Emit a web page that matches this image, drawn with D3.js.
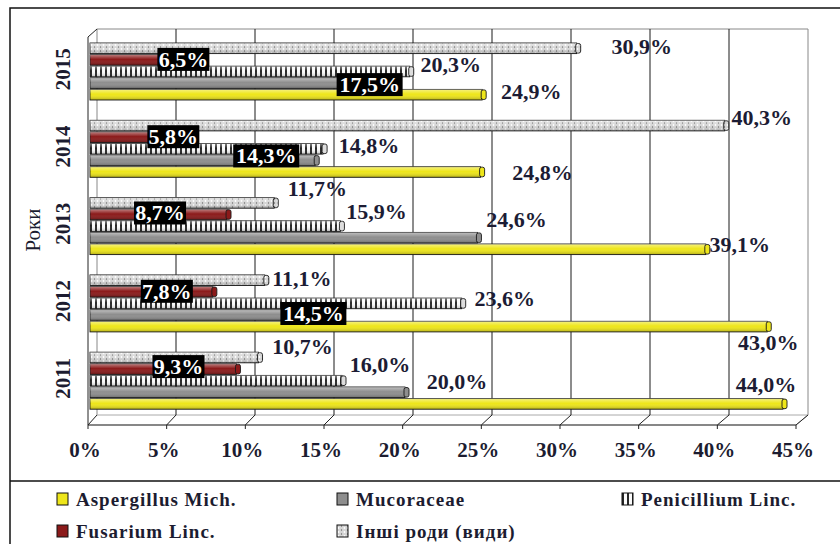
<!DOCTYPE html>
<html>
<head>
<meta charset="utf-8">
<script src="https://cdn.jsdelivr.net/npm/d3@7"></script>
<style>
  body { margin: 0; background: #fff; }
  svg { display: block; font-family: "Liberation Serif", "Times New Roman", serif; }
</style>
</head>
<body>
<div id="chart"></div>
<script>
// data
var years = ["2015", "2014", "2013", "2012", "2011"];
var seriesNames = ["Інші роди (види)", "Fusarium Linc.", "Penicillium Linc.", "Mucoraceae", "Aspergillus Mich."];
var inshi       = [30.9, 40.3, 11.7, 11.1, 10.7];
var fusarium    = [6.5, 5.8, 8.7, 7.8, 9.3];
var penicillium = [20.3, 14.8, 15.9, 23.6, 16.0];
var mucoraceae  = [17.5, 14.3, 24.6, 14.5, 20.0];
var aspergillus = [24.9, 24.8, 39.1, 43.0, 44.0];
var xTicks = [0, 5, 10, 15, 20, 25, 30, 35, 40, 45];
var legendOrder = ["Aspergillus Mich.", "Mucoraceae", "Penicillium Linc.", "Fusarium Linc.", "Інші роди (види)"];

var values = [inshi, fusarium, penicillium, mucoraceae, aspergillus];

// label placement (layout only): [dx of label centre from bar end, dy from bar centre] per series, per year
var labelNudge = [
  [[61, -2], [33, -8], [39, -15], [33, -2], [40, -11]],
  [[-13, -1], [-12, -1], [-71, -2], [-50, -1], [-62, -3]],
  [[37, -7], [42, -4], [32, -15], [39, -5], [34, -16]],
  [[0, 1], [-53, -5], [35, -18], [-9, -2], [48, -11]],
  [[45, -3], [58, 0], [30, -5], [-3, 16], [-21, -20]]
];
// which labels sit in a black box
var boxed = [
  [false, false, false, false, false],
  [true, true, true, true, true],
  [false, false, false, false, false],
  [true, true, false, true, false],
  [false, false, false, false, false]
];

var W = 840, H = 544;
var svg = d3.select("#chart").append("svg").attr("width", W).attr("height", H);
var defs = svg.append("defs");

// patterns
var pPen = defs.append("pattern").attr("id", "pen").attr("patternUnits", "userSpaceOnUse")
  .attr("width", 5).attr("height", 10);
pPen.append("rect").attr("width", 5).attr("height", 10).attr("fill", "#fafafa");
pPen.append("rect").attr("width", 2).attr("height", 10).attr("fill", "#262626");

var pIn = defs.append("pattern").attr("id", "inshi").attr("patternUnits", "userSpaceOnUse")
  .attr("width", 6).attr("height", 4);
pIn.append("rect").attr("width", 6).attr("height", 4).attr("fill", "#d6d6d6");
pIn.append("circle").attr("cx", 1.5).attr("cy", 1).attr("r", 0.9).attr("fill", "#fff");
pIn.append("circle").attr("cx", 4.5).attr("cy", 3).attr("r", 0.7).attr("fill", "#6a6a6a");

var shade = defs.append("linearGradient").attr("id", "shade")
  .attr("x1", 0).attr("y1", 0).attr("x2", 0).attr("y2", 1);
shade.append("stop").attr("offset", "0%").attr("stop-color", "#fff").attr("stop-opacity", 0.45);
shade.append("stop").attr("offset", "45%").attr("stop-color", "#fff").attr("stop-opacity", 0);
shade.append("stop").attr("offset", "100%").attr("stop-color", "#000").attr("stop-opacity", 0.25);

var fills = ["url(#inshi)", "#8b1a1a", "url(#pen)", "#8e8e8e", "#eee61a"];
var legendFill = {"Aspergillus Mich.": "#eee61a", "Mucoraceae": "#8e8e8e", "Penicillium Linc.": "url(#pen)",
  "Fusarium Linc.": "#8b1a1a", "Інші роди (види)": "url(#inshi)"};

// outer frame
svg.append("path").attr("d", "M10,544 V8 H840").attr("fill", "none").attr("stroke", "#111").attr("stroke-width", 1.5);
svg.append("line").attr("x1", 10).attr("x2", 840).attr("y1", 481).attr("y2", 481).attr("stroke", "#111").attr("stroke-width", 1.5);

// scales
var xBar = d3.scaleLinear().domain([0, 45]).range([90, 798.75]);
var xBack = d3.scaleLinear().domain([0, 45]).range([97, 808]);
var xFront = d3.scaleLinear().domain([0, 45]).range([88, 796]);
var yBand = d3.scaleBand().domain(years).range([33.5, 420]).padding(0);
var ySer = d3.scaleBand().domain(seriesNames).range([9.5, 67.5]).padding(0);

var wallTop = 29, floorBack = 415, floorFront = 425;

// back wall
svg.append("path")
  .attr("d", "M" + xBack(0) + "," + floorBack + " V" + wallTop + " H" + xBack(45) + " V" + floorBack)
  .attr("fill", "none").attr("stroke", "#888");
// side wall and floor
svg.append("path")
  .attr("d", "M" + xFront(0) + "," + floorFront + " V" + (wallTop + 8) + " L" + xBack(0) + "," + wallTop)
  .attr("fill", "none").attr("stroke", "#222");
svg.append("path")
  .attr("d", "M" + xBack(0) + "," + floorBack + " H" + xBack(45) + " L" + xFront(45) + "," + floorFront)
  .attr("fill", "none").attr("stroke", "#aaa");
svg.append("line").attr("x1", xFront(0)).attr("x2", xFront(45)).attr("y1", floorFront).attr("y2", floorFront)
  .attr("stroke", "#111").attr("stroke-width", 1.2);

// gridlines on back wall + floor ticks
var grid = svg.append("g");
grid.selectAll("line.g").data(xTicks.slice(1, -1)).enter().append("line")
  .attr("x1", function (d) { return xBack(d); }).attr("x2", function (d) { return xBack(d); })
  .attr("y1", wallTop).attr("y2", floorBack).attr("stroke", "#1a1a1a");
grid.selectAll("path.t").data(xTicks).enter().append("path")
  .attr("d", function (d) {
    return "M" + xBack(d) + "," + floorBack + " L" + xFront(d) + "," + floorFront + " V" + (floorFront + 4);
  })
  .attr("fill", "none").attr("stroke", "#222");

// x tick labels
svg.selectAll("text.xt").data(xTicks).enter().append("text")
  .attr("x", function (d) { return xFront(d) - 3; }).attr("y", 450).attr("dy", "0.35em")
  .attr("text-anchor", "middle").attr("font-size", 21).attr("font-weight", "bold").attr("fill", "#1c1c30")
  .text(function (d) { return d + "%"; });

// year labels
svg.selectAll("text.yr").data(years).enter().append("text")
  .attr("transform", function (d) {
    return "translate(63," + (yBand(d) + yBand.bandwidth() / 2 - 3) + ") rotate(-90)";
  })
  .attr("dy", "0.35em").attr("text-anchor", "middle").attr("font-size", 21).attr("font-weight", "bold")
  .attr("fill", "#1c1c30").text(function (d) { return d; });
svg.append("text").attr("transform", "translate(33,230) rotate(-90)").attr("dy", "0.35em")
  .attr("text-anchor", "middle").attr("font-size", 21).attr("fill", "#1c1c30").text("Роки");

// bars
var bh = ySer.bandwidth() - 1;
var barData = [];
seriesNames.forEach(function (s, si) {
  years.forEach(function (y, yi) {
    barData.push({s: s, si: si, y: y, yi: yi, v: values[si][yi]});
  });
});
var bars = svg.append("g").selectAll("g").data(barData).enter().append("g");
bars.append("rect")
  .attr("x", xBar(0))
  .attr("y", function (d) { return yBand(d.y) + ySer(d.s); })
  .attr("width", function (d) { return xBar(d.v) - xBar(0); })
  .attr("height", bh)
  .attr("fill", function (d) { return fills[d.si]; })
  .attr("stroke", "#1a1a1a").attr("stroke-width", 0.9);
bars.append("rect")
  .attr("x", xBar(0))
  .attr("y", function (d) { return yBand(d.y) + ySer(d.s); })
  .attr("width", function (d) { return xBar(d.v) - xBar(0); })
  .attr("height", bh)
  .attr("fill", "url(#shade)");
// end caps
bars.append("rect")
  .attr("x", function (d) { return xBar(d.v) - 1; })
  .attr("y", function (d) { return yBand(d.y) + ySer(d.s) + 0.5; })
  .attr("width", 5).attr("height", bh - 1).attr("rx", 2)
  .attr("fill", function (d) { return d.si === 2 ? "#ddd" : fills[d.si]; })
  .attr("stroke", "#1a1a1a").attr("stroke-width", 0.9);

// labels
var labels = svg.append("g").selectAll("g").data(barData).enter().append("g")
  .attr("transform", function (d) {
    var n = labelNudge[d.si][d.yi];
    var cx = xBar(d.v) + 4 + n[0];
    var cy = yBand(d.y) + ySer(d.s) + bh / 2 + n[1];
    return "translate(" + cx + "," + cy + ")";
  });
labels.filter(function (d) { return boxed[d.si][d.yi]; }).append("rect")
  .attr("x", function (d) { return d.v >= 10 ? -33 : -26; })
  .attr("width", function (d) { return d.v >= 10 ? 66 : 52; })
  .attr("y", -11).attr("height", 23).attr("fill", "#000");
labels.append("text")
  .attr("text-anchor", "middle").attr("dy", "0.35em")
  .attr("font-size", 22).attr("font-weight", "bold")
  .attr("fill", function (d) { return boxed[d.si][d.yi] ? "#fff" : "#1c1c34"; })
  .text(function (d) { return d3.format(".1f")(d.v).replace(".", ",") + "%"; });

// legend
var legPos = [[57, 499], [337, 499], [622, 499], [57, 531], [337, 531]];
var leg = svg.append("g").selectAll("g").data(legendOrder).enter().append("g")
  .attr("transform", function (d, i) { return "translate(" + legPos[i][0] + "," + legPos[i][1] + ")"; });
leg.append("rect").attr("x", 0).attr("y", -6).attr("width", 11).attr("height", 12)
  .attr("fill", function (d) { return legendFill[d]; }).attr("stroke", "#111").attr("stroke-width", 1);
leg.append("text").attr("x", 19).attr("dy", "0.35em").attr("font-size", 19).attr("font-weight", "bold")
  .attr("letter-spacing", 1).attr("fill", "#1c1c30").text(function (d) { return d; });
</script>
</body>
</html>
